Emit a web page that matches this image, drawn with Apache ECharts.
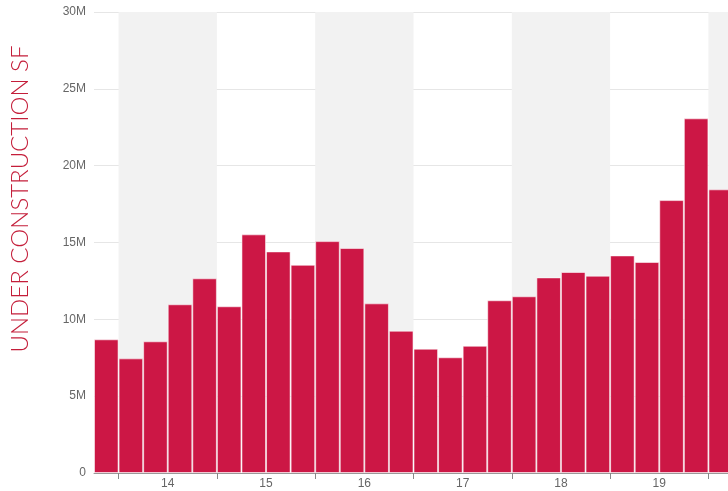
<!DOCTYPE html>
<html>
<head>
<meta charset="utf-8">
<script src="https://cdn.jsdelivr.net/npm/echarts@6/dist/echarts.min.js"></script>
<style>
  html, body { margin: 0; padding: 0; background: #fff; }
  #chart { width: 728px; height: 491px; }
</style>
</head>
<body>
<div id="chart"></div>
<script>
// quarters, one bar each
const quarters = [
  '2013 Q4',
  '2014 Q1', '2014 Q2', '2014 Q3', '2014 Q4',
  '2015 Q1', '2015 Q2', '2015 Q3', '2015 Q4',
  '2016 Q1', '2016 Q2', '2016 Q3', '2016 Q4',
  '2017 Q1', '2017 Q2', '2017 Q3', '2017 Q4',
  '2018 Q1', '2018 Q2', '2018 Q3', '2018 Q4',
  '2019 Q1', '2019 Q2', '2019 Q3', '2019 Q4',
  '2020 Q1'
];
// under construction square feet
const underConstruction = [
  8700000,
  7460000, 8570000, 10980000, 12670000,
  10850000, 15530000, 14420000, 13550000,
  15090000, 14640000, 11040000, 9260000,
  8090000, 7530000, 8280000, 11240000,
  11500000, 12730000, 13080000, 12840000,
  14160000, 13730000, 17760000, 23080000,
  18460000
];
const yTicks = { min: 0, max: 30000000, interval: 5000000 };

const chart = echarts.init(document.getElementById('chart'), null, { renderer: 'canvas' });

// year boundaries fall at the first quarter of each year
const isYearStart = (idx) => quarters[idx].endsWith('Q1');
// year label sits mid-year, i.e. on the left edge of Q3
const isMidYear = (idx) => quarters[idx].endsWith('Q3');

const option = {
  animation: false,
  backgroundColor: '#fff',
  grid: {
    left: 94,
    right: -5, // plot runs a little past the right edge
    top: 12,
    bottom: 18,
    containLabel: false,
    outerBoundsMode: 'none'
  },
  xAxis: {
    type: 'category',
    data: quarters,
    boundaryGap: true,
    axisLine: { show: true, lineStyle: { color: '#999', width: 1 } },
    axisTick: {
      show: true,
      interval: isYearStart,
      length: 6,
      lineStyle: { color: '#888' }
    },
    axisLabel: {
      interval: isMidYear,
      formatter: (v) => v.slice(2, 4),
      color: '#666',
      fontFamily: 'Liberation Sans, Arial, sans-serif',
      fontSize: 12,
      margin: 5,
      padding: [0, 24.6, 0, 0]
    },
    splitLine: { show: false },
    splitArea: {
      show: true,
      interval: isYearStart,
      areaStyle: { color: ['rgba(255,255,255,0)', '#f2f2f2'] }
    }
  },
  yAxis: {
    type: 'value',
    min: yTicks.min,
    max: yTicks.max,
    interval: yTicks.interval,
    name: 'UNDER CONSTRUCTION SF',
    nameLocation: 'middle',
    nameRotate: 90,
    nameGap: 62,
    nameTextStyle: {
      color: '#c41e3a',
      fontFamily: 'Lato, sans-serif',
      fontWeight: 300,
      fontSize: 24,
      padding: [0, 0, 0, 87]
    },
    axisLine: { show: false },
    axisTick: { show: false },
    axisLabel: {
      color: '#666',
      fontFamily: 'Liberation Sans, Arial, sans-serif',
      fontSize: 12,
      margin: 8,
      formatter: (v) => (v === 0 ? '0' : v / 1000000 + 'M')
    },
    splitLine: { show: true, lineStyle: { color: '#e6e6e6', width: 1 } }
  },
  series: [
    {
      type: 'bar',
      data: underConstruction,
      barCategoryGap: 0,
      itemStyle: {
        color: '#cc1745',
        borderColor: 'rgba(255,255,255,0.55)',
        borderWidth: 1
      }
    }
  ]
};

chart.setOption(option);
</script>
</body>
</html>
